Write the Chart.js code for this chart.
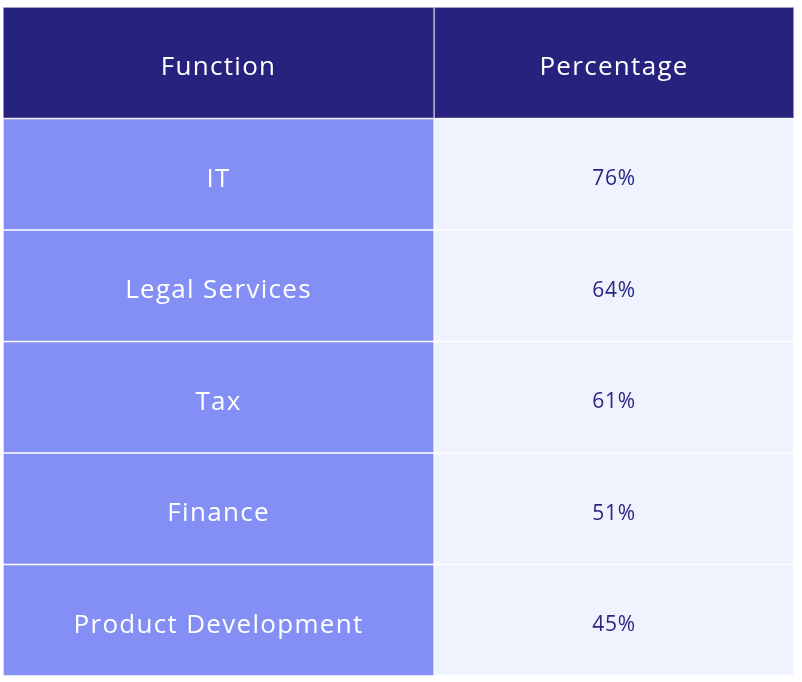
<!DOCTYPE html>
<html>
<head>
<meta charset="utf-8">
<script src="https://cdn.jsdelivr.net/npm/chart.js@4"></script>
<style>
  html, body { margin: 0; padding: 0; background: #fff; }
  #wrap { width: 802px; height: 682px; }
</style>
</head>
<body>
<div id="wrap"><canvas id="tabela" width="802" height="682"></canvas></div>
<script>
// --- DADOS ---
const headers = ['Function', 'Percentage'];
const functions = ['IT', 'Legal Services', 'Tax', 'Finance', 'Product Development'];
const percentages = [76, 64, 61, 51, 45];

// layout: where the column divider sits (fraction of table width)
const splitAt = 0.545;

const NAVY = '#27227d';
const PURPLE = '#848ff5';
const LIGHT = '#eef3fe';
const FONT = '"Open Sans", sans-serif';

const rows = ['header', ...functions];

// draws the text of each cell in the middle of its bar
const cellText = {
  id: 'cellText',
  afterDatasetsDraw(chart) {
    const ctx = chart.ctx;
    ctx.save();
    ctx.textAlign = 'center';
    ctx.textBaseline = 'middle';
    chart.data.datasets.forEach((ds, col) => {
      chart.getDatasetMeta(col).data.forEach((bar, row) => {
        const cx = (bar.x + bar.base) / 2;
        let text, font, color;
        if (row === 0) {
          text = headers[col];
          font = '400 26px ' + FONT;
          color = '#ffffff';
        } else if (col === 0) {
          text = functions[row - 1];
          font = '400 26px ' + FONT;
          color = '#ffffff';
        } else {
          text = percentages[row - 1] + '%';
          font = '400 21px ' + FONT;
          color = '#2a2680';
        }
        ctx.font = font;
        ctx.fillStyle = color;
        ctx.letterSpacing = col === 1 && row > 0 ? '0.8px' : '1.3px';
        ctx.fillText(text, cx, bar.y + 5);
      });
    });
    ctx.restore();
  }
};

new Chart(document.getElementById('tabela'), {
  type: 'bar',
  data: {
    labels: rows,
    datasets: [
      {
        label: headers[0],
        data: rows.map(() => [0, splitAt]),
        backgroundColor: rows.map((r, i) => i === 0 ? NAVY : PURPLE),
        borderColor: rows.map((r, i) => i === 0 ? '#c9c8dd' : '#ffffff'),
        borderWidth: 1,
        borderSkipped: false
      },
      {
        label: headers[1],
        data: rows.map(() => [splitAt, 1]),
        backgroundColor: rows.map((r, i) => i === 0 ? NAVY : LIGHT),
        borderColor: rows.map((r, i) => i === 0 ? '#c9c8dd' : '#ffffff'),
        borderWidth: 1,
        borderSkipped: false
      }
    ]
  },
  options: {
    indexAxis: 'y',
    responsive: false,
    animation: false,
    layout: { padding: { left: 3, top: 7, right: 8, bottom: 6 } },
    datasets: {
      bar: { grouped: false, categoryPercentage: 1, barPercentage: 1 }
    },
    scales: {
      x: { type: 'linear', min: 0, max: 1, display: false },
      y: { type: 'category', display: false }
    },
    plugins: {
      legend: { display: false },
      tooltip: { enabled: false }
    }
  },
  plugins: [cellText]
});
</script>
</body>
</html>
